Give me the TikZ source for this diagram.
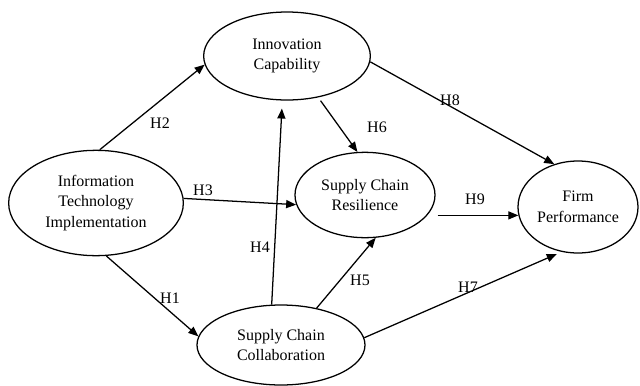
\documentclass[tikz,border=0pt]{standalone}
\usepackage{fontspec}
\setmainfont{Liberation Serif}
\usepackage{tikz}
\usetikzlibrary{shapes.geometric, arrows.meta}

\begin{document}
\begin{tikzpicture}[x=0.75pt, y=-0.75pt,
    construct/.style = {ellipse, draw, line width=0.95pt, align=center,
        inner sep=0pt, font=\fontsize{12}{15.5}\selectfont},
    path/.style = {line width=0.95pt, -{Triangle[length=7.5pt,width=6pt]}},
    hyp/.style = {font=\fontsize{12}{14}\selectfont, inner sep=1pt}]

\useasboundingbox (0,0) rectangle (640,386);

% Constructs
\node[construct, minimum width=131pt, minimum height=79pt] (ITI) at (96,203)
    {Information\\Technology\\Implementation};
\node[construct, minimum width=125pt, minimum height=66pt] (IC) at (287,56)
    {Innovation\\Capability};
\node[construct, minimum width=105pt, minimum height=64pt] (SCR) at (365,195)
    {Supply Chain\\Resilience};
\node[construct, minimum width=126pt, minimum height=60pt] (SCC) at (281,345)
    {Supply Chain\\Collaboration};
\node[construct, minimum width=90pt, minimum height=69pt] (FP) at (578,207)
    {Firm\\Performance};

% Hypotheses
\draw[path] (ITI.86) -- (IC.186);
\draw[path] (ITI.3) -- (SCR.188);
\draw[path] (ITI.281) -- (SCC.174);
\draw[path, shorten >=6pt] (SCC.103) -- (IC.264);
\draw[path] (SCC.46) -- (SCR.284);
\draw[path, shorten <=3pt] (IC.307) -- (SCR.100);
\draw[path] (IC.356) -- (FP.119);
\draw[path, shorten <=7pt] (FP.188 -| SCR.-17) -- (FP.188);
\draw[path, shorten >=4pt] (SCC.5) -- (FP.250);

% Labels
\node[hyp] (h1) at (170,298) {H1};
\node[hyp] (h2) at (160,123) {H2};
\node[hyp] (h3) at (203,190) {H3};
\node[hyp] (h4) at (260,247) {H4};
\node[hyp] (h5) at (360,280) {H5};
\node[hyp] (h6) at (377,127) {H6};
\node[hyp] (h7) at (468,287) {H7};
\node[hyp] (h8) at (450,100) {H8};
\node[hyp] (h9) at (475,199) {H9};
\end{tikzpicture}
\end{document}
